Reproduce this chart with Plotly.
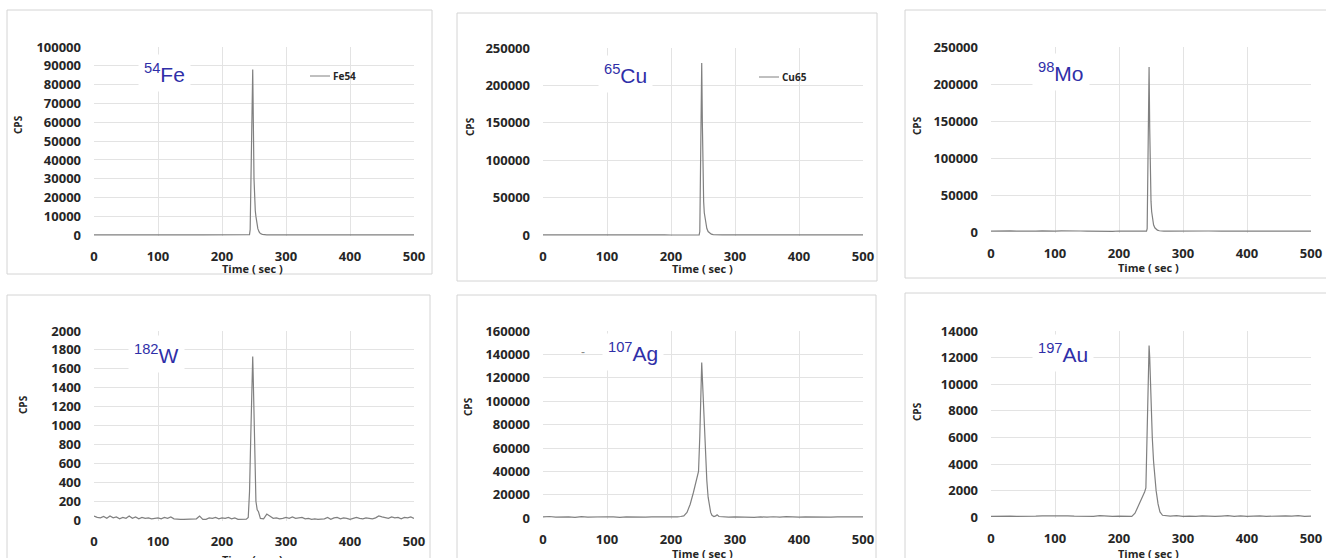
import plotly.graph_objects as go

W, H = 1326, 558

# ---------------- data ----------------
time_fe = [0, 10, 20, 30, 40, 50, 60, 70, 80, 90, 100, 110, 120, 130, 140, 150, 160, 170, 180, 190,
           200, 210, 220, 230, 240, 243, 244, 246, 248, 250, 251, 252, 253, 254, 256, 258, 260, 263,
           266, 270, 280, 290, 300, 320, 340, 360, 380, 400, 420, 440, 460, 480, 500]
cps_fe = [250, 220, 240, 210, 230, 200, 220, 240, 210, 230, 220, 200, 240, 210, 230, 220, 200, 230,
          210, 240, 220, 230, 210, 240, 250, 300, 3000, 45000, 88000, 30000, 16000, 13000, 10000,
          7000, 3500, 1800, 900, 450, 300, 250, 230, 220, 240, 210, 230, 220, 240, 210, 230, 220,
          240, 210, 230]

time_cu = [0, 10, 20, 30, 40, 50, 60, 70, 80, 90, 100, 110, 120, 130, 140, 150, 160, 170, 180, 190,
           200, 210, 220, 230, 240, 244, 245, 246, 247, 248, 249, 250, 251, 252, 254, 256, 258, 260,
           263, 266, 270, 280, 290, 300, 320, 340, 360, 380, 400, 420, 440, 460, 480, 500]
cps_cu = [400, 350, 380, 360, 400, 370, 350, 390, 360, 380, 350, 400, 370, 360, 390, 350, 380, 360,
          400, 370, 350, 390, 360, 380, 400, 500, 5000, 90000, 180000, 230000, 150000, 80000, 45000,
          30000, 16000, 9000, 5000, 3000, 1500, 800, 500, 420, 380, 400, 370, 390, 360, 380, 400,
          370, 390, 360, 380, 370]

time_mo = [0, 10, 20, 30, 40, 50, 60, 70, 80, 90, 100, 110, 120, 130, 140, 150, 160, 170, 180, 190,
           200, 210, 220, 230, 240, 243, 244, 245, 246, 247, 248, 249, 250, 251, 252, 254, 256, 258,
           260, 263, 266, 270, 280, 290, 300, 320, 340, 360, 380, 400, 420, 440, 460, 480, 500]
cps_mo = [1500, 1800, 1400, 1900, 1600, 1300, 1700, 1500, 1800, 1400, 1600, 1900, 1500, 1300, 1700,
          1600, 1400, 1800, 1500, 1300, 1700, 1500, 1400, 1600, 1500, 1500, 5000, 60000, 150000,
          223000, 140000, 70000, 42000, 28000, 19000, 10000, 6000, 4000, 2800, 2000, 1700, 1500,
          1400, 1600, 1500, 1300, 1700, 1500, 1400, 1600, 1300, 1500, 1700, 1400, 1600]

time_w = [0, 5, 10, 15, 20, 25, 30, 35, 40, 45, 50, 55, 60, 65, 70, 75, 80, 85, 90, 95, 100, 105,
          110, 115, 120, 125, 130, 135, 140, 145, 150, 155, 160, 165, 170, 175, 180, 185, 190, 195,
          200, 205, 210, 215, 220, 225, 230, 235, 238, 241, 243, 245, 247, 248, 249, 251, 253, 255,
          257, 260, 265, 270, 275, 280, 285, 290, 295, 300, 305, 310, 315, 320, 325, 330, 335, 340,
          345, 350, 355, 360, 365, 370, 375, 380, 385, 390, 395, 400, 405, 410, 415, 420, 425, 430,
          435, 440, 445, 450, 455, 460, 465, 470, 475, 480, 485, 490, 495, 500]
cps_w = [45, 30, 25, 40, 20, 45, 25, 35, 15, 30, 20, 45, 20, 35, 15, 30, 20, 25, 15, 20, 25, 15,
         30, 20, 35, 15, 10, 10, 10, 10, 10, 12, 15, 45, 10, 10, 25, 20, 30, 15, 25, 20, 30, 15, 25,
         10, 10, 10, 12, 30, 300, 900, 1550, 1730, 1450, 700, 200, 110, 90, 20, 15, 65, 40, 20, 25,
         15, 20, 30, 20, 35, 20, 25, 30, 15, 20, 10, 15, 10, 10, 15, 30, 10, 25, 30, 15, 25, 20, 10,
         20, 30, 20, 15, 25, 20, 15, 25, 45, 35, 30, 20, 35, 25, 30, 15, 30, 25, 35, 20]

time_ag = [0, 10, 20, 30, 40, 50, 60, 70, 80, 90, 100, 110, 120, 130, 140, 150, 160, 170, 180, 190,
           200, 210, 215, 220, 225, 230, 235, 240, 243, 245, 247, 248, 249, 250, 252, 254, 256, 258,
           260, 262, 264, 267, 270, 272, 275, 280, 290, 300, 310, 320, 330, 340, 350, 360, 370, 380,
           390, 400, 410, 420, 430, 440, 450, 460, 470, 480, 490, 500]
cps_ag = [1200, 1500, 900, 1300, 1100, 800, 1400, 1000, 1200, 900, 1300, 1100, 800, 1200, 1000,
          1400, 900, 1200, 1100, 1300, 1000, 1200, 1500, 2000, 5000, 12000, 22000, 32000, 40000,
          70000, 115000, 133000, 120000, 105000, 84000, 52000, 32000, 18000, 10000, 5000, 2500,
          1500, 2000, 3000, 1500, 1200, 900, 1100, 800, 1000, 700, 1200, 900, 1300, 1000, 1400,
          1100, 900, 1200, 1000, 1300, 1100, 900, 1200, 1400, 1000, 1300, 1100]

time_au = [0, 10, 20, 30, 40, 50, 60, 70, 80, 90, 100, 110, 120, 130, 140, 150, 160, 170, 180, 190,
           200, 210, 220, 225, 230, 235, 240, 242, 244, 246, 247, 248, 250, 252, 254, 256, 258, 261,
           264, 268, 275, 280, 290, 300, 310, 320, 330, 340, 350, 360, 370, 380, 390, 400, 410, 420,
           430, 440, 450, 460, 470, 480, 490, 500]
cps_au = [60, 80, 50, 90, 70, 60, 100, 80, 110, 120, 90, 130, 110, 80, 60, 90, 70, 120, 80, 60, 90,
          70, 60, 300, 800, 1300, 1900, 2200, 6000, 11500, 12900, 12000, 8500, 6000, 4200, 3000,
          2000, 1000, 400, 150, 100, 80, 120, 60, 90, 70, 110, 80, 60, 90, 120, 70, 100, 60, 80, 110,
          70, 90, 60, 100, 80, 120, 70, 90]

y_max = [100000, 250000, 250000, 2000, 160000, 14000]
y_step = [10000, 50000, 50000, 200, 20000, 2000]
x_ticks = [0, 100, 200, 300, 400, 500]
isotope_mass = ["54", "65", "98", "182", "107", "197"]
isotope_sym = ["Fe", "Cu", "Mo", "W", "Ag", "Au"]
legend_names = ["Fe54", "Cu65", None, None, None, None]

series = [(time_fe, cps_fe), (time_cu, cps_cu), (time_mo, cps_mo),
          (time_w, cps_w), (time_ag, cps_ag), (time_au, cps_au)]

# ---------------- layout geometry (pixels) ----------------
plot_x = [(94, 414), (543, 863), (991, 1311), (94, 414), (543, 863), (991, 1311)]
plot_y = [(47, 236), (48, 236), (47, 233), (331, 521), (331, 519), (331, 518)]
frames = [(7, 432, 10, 274), (457, 877, 13, 281), (905, 1330, 10, 278),
          (7, 430, 295, 600), (457, 876, 295, 600), (905, 1330, 293, 600)]
label_pos = [(138, 73), (598, 74), (1032, 72), (128, 354), (602, 352), (1032, 353)]
cps_pos = [(18, 125), (470, 127), (917, 126), (23, 405), (468, 407), (917, 412)]
time_pos = [(253, 269), (702, 268), (1148, 267), (253, 559), (702, 553), (1148, 553)]
legend_pos = [(310, 76), (759, 77), None, None, None, None]


def fx(p):
    return p / W


def fy(p):
    return 1 - p / H


fig = go.Figure()
shapes = []
annotations = []
tick_font = dict(family="Open Sans", size=13, color="#262626", weight="bold")
blue = "#2f2fa8"

for i, (t, v) in enumerate(series):
    k = "" if i == 0 else str(i + 1)
    fig.add_trace(go.Scatter(x=t, y=v, mode="lines", xaxis="x" + k, yaxis="y" + k,
                             line=dict(color="#808080", width=1.2), showlegend=False,
                             hoverinfo="skip"))
    x0, x1 = plot_x[i]
    ytop, ybot = plot_y[i]
    ym = y_max[i]
    fig.update_layout(**{
        "xaxis" + k: dict(domain=[fx(x0), fx(x1)], anchor="y" + k, range=[0, 500],
                          tickvals=x_ticks, showgrid=True, gridcolor="#e3e3e3", gridwidth=1,
                          zeroline=False, showline=False, ticks="", tickfont=tick_font,
                          ticklabelstandoff=11, automargin=False, fixedrange=True),
        "yaxis" + k: dict(domain=[fy(ybot), fy(ytop)], anchor="x" + k,
                          range=[-0.004 * ym, ym],
                          tickvals=list(range(0, ym + 1, y_step[i])), tickformat="d",
                          showgrid=True, gridcolor="#e3e3e3", gridwidth=1, zeroline=False,
                          showline=False, ticks="", tickfont=tick_font,
                          ticklabelstandoff=12, automargin=False, fixedrange=True),
    })
    fx0, fx1, fy0, fy1 = frames[i]
    shapes.append(dict(type="rect", xref="paper", yref="paper", x0=fx(fx0), x1=fx(fx1),
                       y0=fy(fy1), y1=fy(fy0), line=dict(color="#d4d4d4", width=1),
                       layer="below"))
    lx, ly = label_pos[i]
    annotations.append(dict(xref="paper", yref="paper", x=fx(lx), y=fy(ly), xanchor="left",
                            yanchor="middle", showarrow=False,
                            text="<sup>" + isotope_mass[i] + "</sup>" + isotope_sym[i],
                            font=dict(family="Liberation Sans", size=21, color=blue),
                            bgcolor="white", borderpad=5))
    cx, cy = cps_pos[i]
    annotations.append(dict(xref="paper", yref="paper", x=fx(cx), y=fy(cy), showarrow=False,
                            xanchor="center", yanchor="middle", text="CPS", textangle=-90,
                            font=dict(family="Open Sans", size=10, color="#262626",
                                      weight="bold")))
    tx, ty = time_pos[i]
    annotations.append(dict(xref="paper", yref="paper", x=fx(tx), y=fy(ty), showarrow=False,
                            xanchor="center", yanchor="middle", text="Time ( sec )",
                            font=dict(family="Open Sans", size=11, color="#262626",
                                      weight="bold")))
    if legend_names[i]:
        gx, gy = legend_pos[i]
        shapes.append(dict(type="line", xref="paper", yref="paper", x0=fx(gx), x1=fx(gx + 20),
                           y0=fy(gy), y1=fy(gy), line=dict(color="#808080", width=1)))
        annotations.append(dict(xref="paper", yref="paper", x=fx(gx + 21), y=fy(gy),
                                xanchor="left", yanchor="middle", showarrow=False,
                                text=legend_names[i],
                                font=dict(family="Open Sans", size=10, color="#262626",
                                          weight="bold")))

# small stray dash left of the Ag label
annotations.append(dict(xref="paper", yref="paper", x=fx(583), y=fy(352), showarrow=False,
                        xanchor="center", yanchor="middle", text="-",
                        font=dict(family="Liberation Sans", size=12, color="#888888")))

fig.update_layout(width=W, height=H, autosize=False, margin=dict(l=0, r=0, t=0, b=0),
                  paper_bgcolor="white", plot_bgcolor="white", shapes=shapes,
                  annotations=annotations, showlegend=False)

fig.write_html("out.html", config={"displayModeBar": False})
